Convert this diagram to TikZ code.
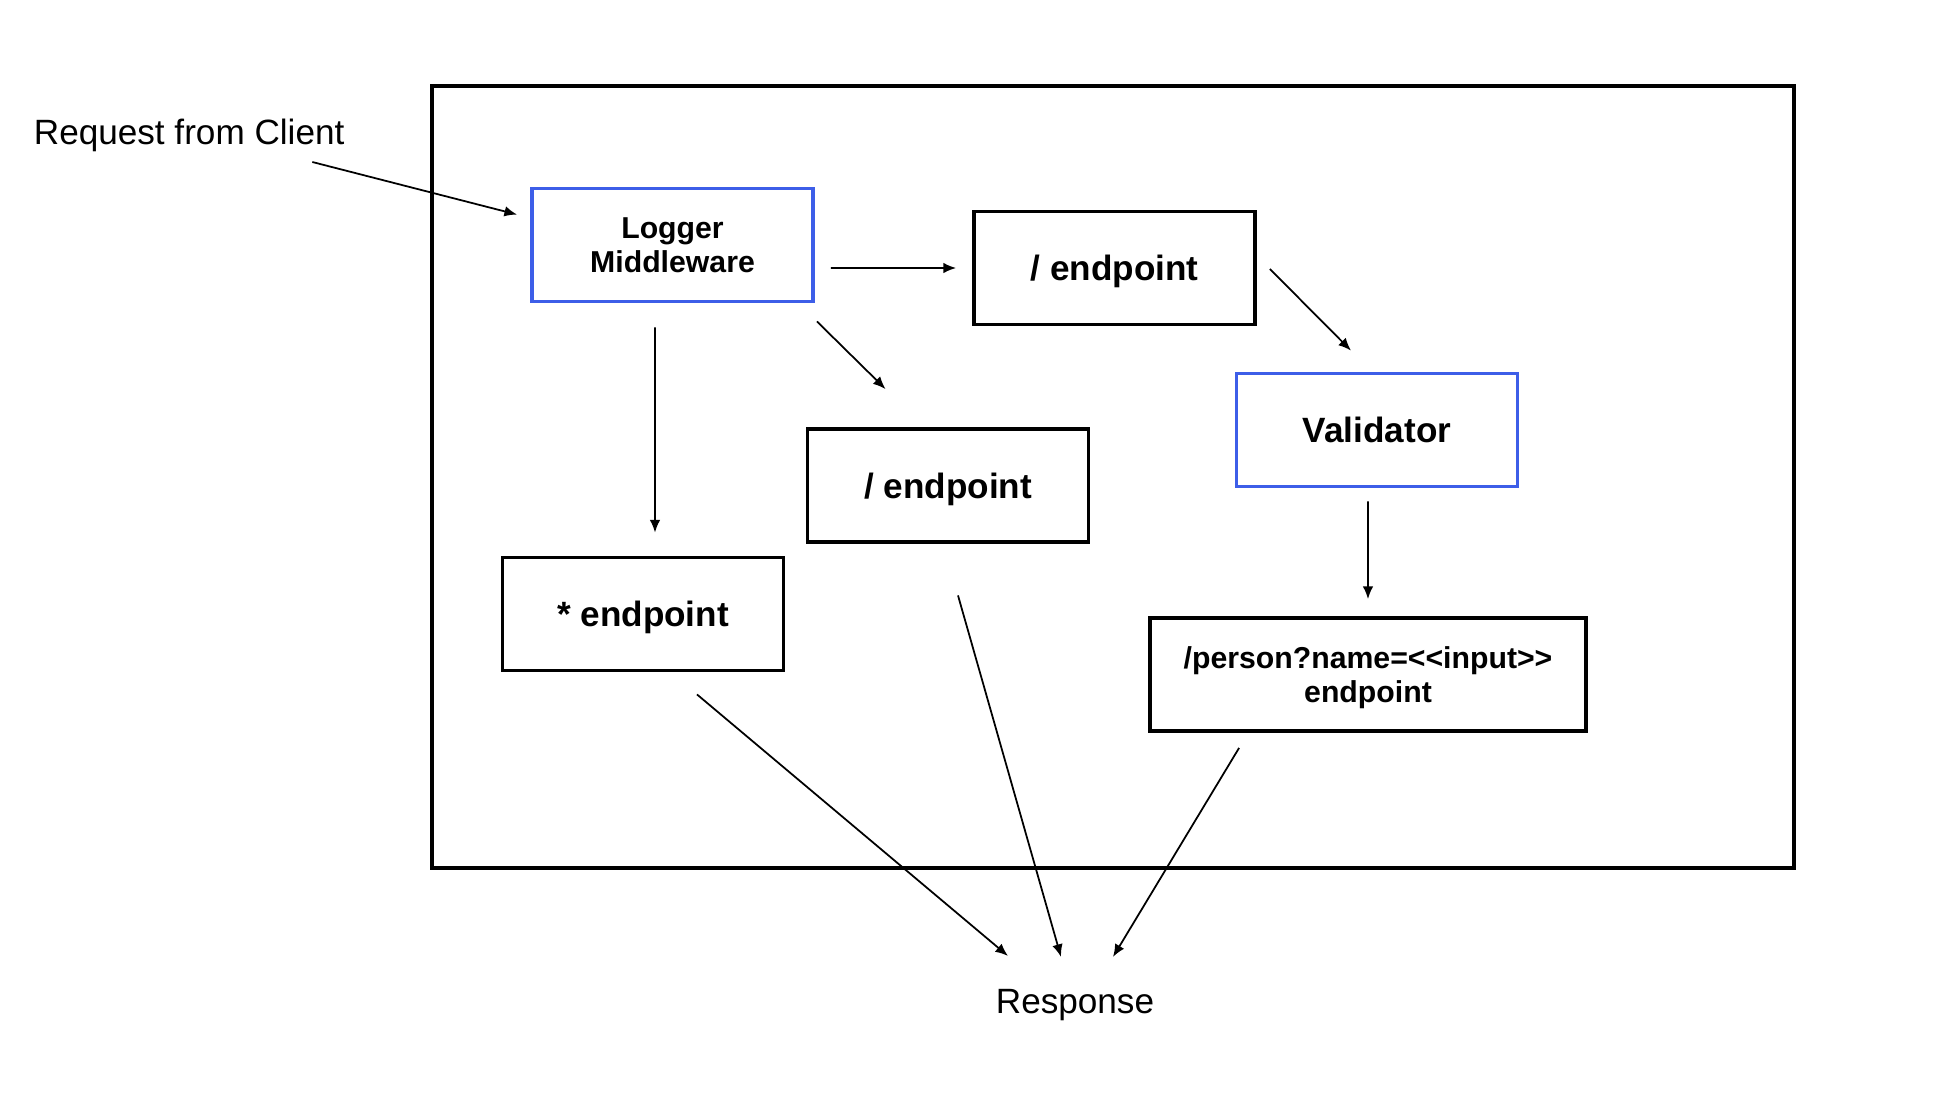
\documentclass[tikz,border=0pt]{standalone}
\usepackage{fontspec}
\setmainfont{Liberation Sans}
\usetikzlibrary{arrows.meta, positioning}
\definecolor{mwblue}{RGB}{61,94,232}

\begin{document}
\begin{tikzpicture}[>={Latex[length=3.6pt,width=3pt]}, line width=0.5pt,
  box/.style={draw, line width=1.1pt, minimum width=2.81cm, minimum height=1.13cm,
    text depth=0pt, align=center, font=\bfseries\fontsize{10}{12}\selectfont},
  bluebox/.style={box, draw=mwblue},
  small/.style={font=\bfseries\fontsize{8.6}{9.6}\selectfont}]
  \useasboundingbox (0,0) rectangle (19.36,-11.02);
  % server frame
  \draw[line width=1.1pt] (4.32,-0.86) rectangle (17.94,-8.68);

  \node[anchor=base west, inner sep=0, font=\fontsize{10}{12}\selectfont] (req) at (0.33,-1.445) {Request from Client};
  \node[bluebox, small] (log) at (6.725,-2.45) {Logger\\Middleware};
  \node[box] (ep1) at (11.145,-2.68) {/ endpoint};
  \node[bluebox] (val) at (13.77,-4.30) {Validator};
  \node[box, small, minimum width=4.36cm] (person) at (13.68,-6.745) {/person?name=<{}<input>{}>\\endpoint};
  \node[box] (ep2) at (9.48,-4.855) {/ endpoint};
  \node[box] (star) at (6.43,-6.14) {* endpoint};
  \node[anchor=base, inner sep=0, font=\fontsize{10}{12}\selectfont] (resp) at (10.75,-10.13) {Response};

  \draw[->] ([shift={(-0.33,-0.175)}]req.base east) -- ([shift={(-0.13,-0.28)}]log.north west);
  \draw[->] ([shift={(0.16,-0.23)}]log.east) -- ([xshift=-0.16cm]ep1.west);
  \draw[->] ([shift={(0.02,-0.18)}]log.south east) -- ([shift={(0.80,0.38)}]ep2.north west);
  \draw[->] ([shift={(-0.175,-0.24)}]log.south) -- ([shift={(0.12,0.23)}]star.north);
  \draw[->] ([shift={(0.13,-0.01)}]ep1.east) -- ([shift={(-0.26,0.21)}]val.north);
  \draw[->] ([shift={(-0.09,-0.13)}]val.south) -- ([shift={(0,0.17)}]person.north);
  \draw[->] ([shift={(0.54,-0.22)}]star.south) -- ([shift={(-0.67,0.32)}]resp.north);
  \draw[->] ([shift={(0.10,-0.515)}]ep2.south) -- ([shift={(-0.14,0.31)}]resp.north);
  \draw[->] ([shift={(0.91,-0.15)}]person.south west) -- ([shift={(0.38,0.31)}]resp.north);
\end{tikzpicture}
\end{document}
